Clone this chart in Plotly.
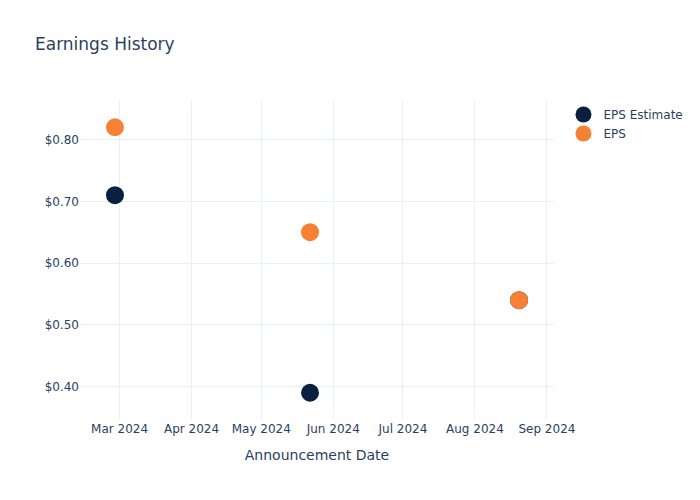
import plotly.graph_objects as go

dates = ["2024-02-28", "2024-05-22", "2024-08-20"]
eps_estimate = [0.71, 0.39, 0.54]
eps_actual = [0.82, 0.65, 0.54]

fig = go.Figure()
fig.add_trace(go.Scatter(x=dates, y=eps_estimate, mode="markers", name="EPS Estimate",
                         marker=dict(color="#0b1f41", size=18)))
fig.add_trace(go.Scatter(x=dates, y=eps_actual, mode="markers", name="EPS",
                         marker=dict(color="#f68135", size=18)))
fig.update_layout(
    template="plotly_white",
    width=700, height=500,
    font=dict(family="DejaVu Sans"),
    title=dict(text="Earnings History"),
    xaxis=dict(title=dict(text="Announcement Date")),
    yaxis=dict(tickprefix="$", tickformat=".2f"),
)
fig.write_html("out.html", config={"displayModeBar": False},
               post_script="document.body.style.margin='0';")
